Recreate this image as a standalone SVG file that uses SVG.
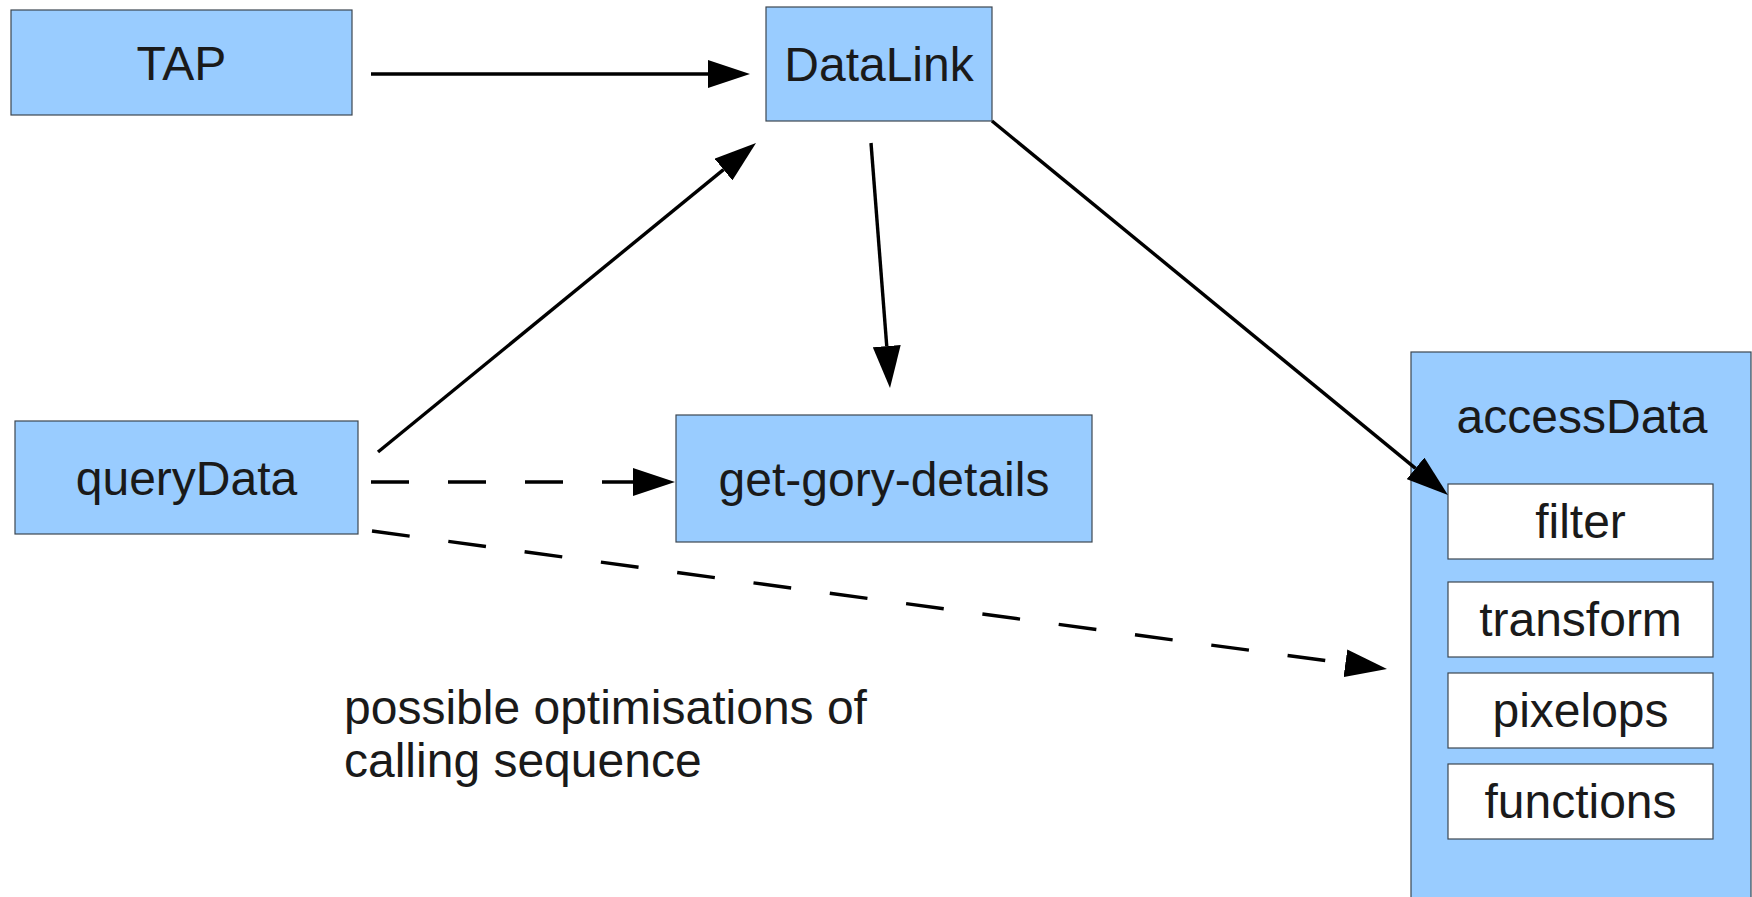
<svg xmlns="http://www.w3.org/2000/svg" width="1752" height="897" viewBox="0 0 1752 897">
<style>
.box{fill:#99ccff;stroke:#3c4650;stroke-width:1.2}
.sub{fill:#ffffff;stroke:#3c4650;stroke-width:1.2}
.t{font-family:"Liberation Sans",Arial,sans-serif;font-size:48px;fill:#1a1a1a;text-anchor:middle}
.note{font-family:"Liberation Sans",Arial,sans-serif;font-size:48px;fill:#1a1a1a}
.c{stroke:#000;stroke-width:3.4;fill:none;marker-end:url(#ah)}
.d{stroke-dasharray:38 39}
</style>
<defs>
<marker id="ah" markerUnits="userSpaceOnUse" markerWidth="42" markerHeight="28" refX="0" refY="14" orient="auto" viewBox="0 0 42 28">
<path d="M0,0 L42,14 L0,28 z" fill="#000"/>
</marker>
</defs>
<rect width="1752" height="897" fill="#ffffff"/>
<g id="TAP"><rect class="box" x="11" y="10" width="341" height="105"/><text class="t" x="181.5" y="80">TAP</text></g>
<g id="DataLink"><rect class="box" x="766" y="7" width="226" height="114"/><text class="t" x="879" y="81">DataLink</text></g>
<g id="queryData"><rect class="box" x="15" y="421" width="343" height="113"/><text class="t" x="186.5" y="495">queryData</text></g>
<g id="get-gory-details"><rect class="box" x="676" y="415" width="416" height="127"/><text class="t" x="884" y="496">get-gory-details</text></g>
<g id="accessData">
<rect class="box" x="1411" y="352" width="340" height="560"/>
<text class="t" x="1582" y="433">accessData</text>
<g id="filter"><rect class="sub" x="1448" y="484" width="265" height="75"/><text class="t" x="1580.5" y="538">filter</text></g>
<g id="transform"><rect class="sub" x="1448" y="582" width="265" height="75"/><text class="t" x="1580.5" y="636">transform</text></g>
<g id="pixelops"><rect class="sub" x="1448" y="673" width="265" height="75"/><text class="t" x="1580.5" y="727">pixelops</text></g>
<g id="functions"><rect class="sub" x="1448" y="764" width="265" height="75"/><text class="t" x="1580.5" y="818">functions</text></g>
</g>
<g id="connectors">
<line class="c" x1="371" y1="74" x2="708" y2="74"/>
<line class="c" x1="378" y1="452" x2="723.5" y2="169.6"/>
<line class="c" x1="871" y1="143" x2="886.75" y2="346.1"/>
<line class="c" x1="992" y1="121" x2="1415.5" y2="468.4"/>
<line class="c d" x1="371" y1="482" x2="633" y2="482"/>
<line class="c d" x1="372" y1="531" x2="1345.4" y2="663.3"/>
</g>
<text class="note" x="344" y="724">possible optimisations of</text>
<text class="note" x="344" y="777">calling sequence</text>
</svg>
